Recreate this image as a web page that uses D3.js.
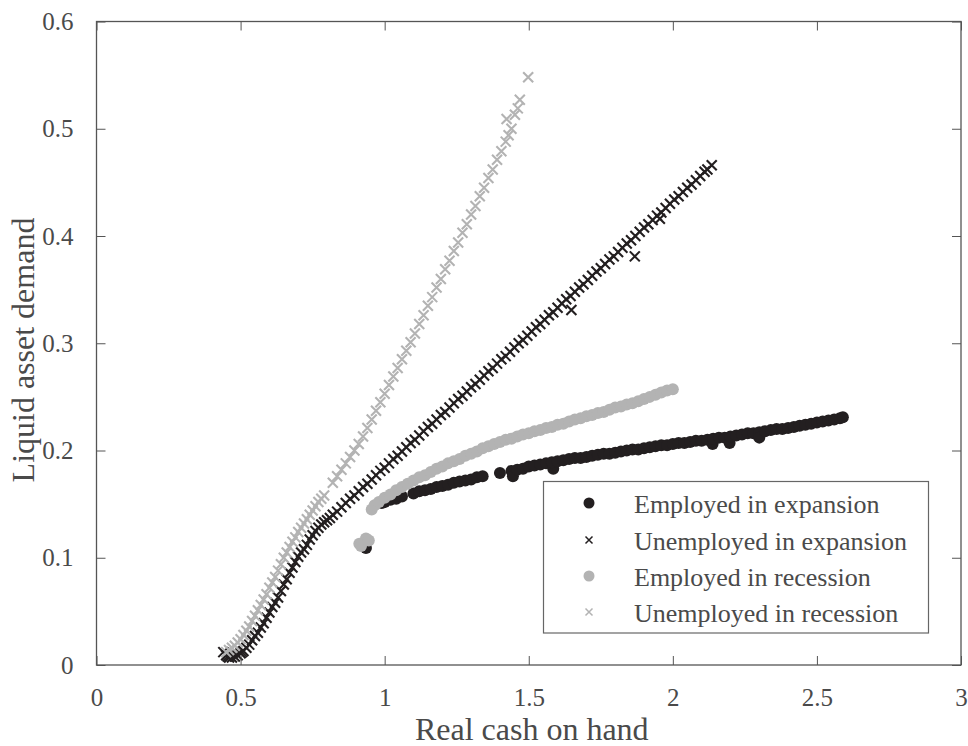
<!DOCTYPE html>
<html><head><meta charset="utf-8">
<script src="https://cdn.jsdelivr.net/npm/d3@7"></script>
<style>body{margin:0;background:#fff}svg{display:block}</style>
</head><body>
<script>
// ---- data ----
const seriesNames = ["Employed in expansion","Unemployed in expansion","Employed in recession","Unemployed in recession"];
const xTicks = [0,0.5,1,1.5,2,2.5,3];
const yTicks = [0,0.1,0.2,0.3,0.4,0.5,0.6];

const empExpansion = [
[0.925,0.112],[0.935,0.109],[0.99,0.151],[1.00,0.152],[1.02,0.154],[1.04,0.155],[1.06,0.157],
[1.10,0.160],[1.12,0.162],[1.14,0.163],[1.16,0.164],[1.18,0.166],[1.20,0.167],[1.22,0.168],[1.24,0.170],
[1.26,0.171],[1.28,0.172],[1.30,0.173],[1.32,0.175],[1.34,0.176],[1.40,0.179],[1.44,0.181],[1.445,0.176],
[1.46,0.182],[1.48,0.183],[1.50,0.185],[1.52,0.186],[1.54,0.187],[1.56,0.188],[1.585,0.183],[1.58,0.189],
[1.60,0.190],[1.62,0.191],[1.64,0.192],[1.66,0.193],[1.68,0.193],[1.70,0.194],[1.72,0.195],[1.74,0.196],
[1.76,0.197],[1.78,0.197],[1.80,0.198],[1.82,0.199],[1.84,0.200],[1.86,0.201],[1.88,0.201],[1.90,0.202],
[1.92,0.203],[1.94,0.204],[1.96,0.205],[1.98,0.205],[2.00,0.206],[2.02,0.207],[2.04,0.207],[2.06,0.208],
[2.08,0.209],[2.10,0.209],[2.12,0.210],[2.138,0.206],[2.14,0.211],[2.16,0.212],[2.18,0.212],[2.197,0.207],
[2.20,0.213],[2.22,0.214],[2.24,0.215],[2.26,0.216],[2.28,0.216],[2.30,0.217],[2.30,0.212],[2.32,0.218],
[2.34,0.219],[2.36,0.220],[2.38,0.220],[2.40,0.221],[2.42,0.222],[2.44,0.223],[2.46,0.224],[2.48,0.225],
[2.50,0.226],[2.52,0.227],[2.54,0.228],[2.56,0.229],[2.58,0.230],[2.59,0.231]
];

const unempExpansion = [
[0.44,0.012],[0.45,0.009],[0.455,0.008],[0.46,0.007],[0.47,0.007],[0.48,0.008],[0.49,0.009],[0.50,0.011],
[0.505,0.012],[0.51,0.013],[0.52,0.016],[0.53,0.019],[0.54,0.023],[0.55,0.027],[0.56,0.030],[0.57,0.035],
[0.58,0.039],[0.59,0.044],[0.60,0.049],[0.61,0.054],[0.62,0.058],[0.63,0.063],[0.64,0.069],[0.65,0.075],
[0.66,0.080],[0.67,0.086],[0.68,0.091],[0.69,0.096],[0.70,0.101],[0.71,0.105],[0.72,0.108],[0.73,0.112],
[0.74,0.117],[0.75,0.121],[0.76,0.125],[0.77,0.128],[0.78,0.131],[0.79,0.133],[0.80,0.135],[0.81,0.137],
[0.820,0.140],[0.835,0.143],[0.850,0.147],[0.865,0.151],[0.880,0.155],[0.895,0.158],[0.910,0.162],[0.925,0.166],
[0.940,0.169],[0.955,0.173],[0.970,0.177],[0.985,0.181],[1.000,0.184],[1.015,0.188],[1.030,0.192],[1.045,0.195],
[1.060,0.199],[1.075,0.203],[1.090,0.207],[1.105,0.210],[1.120,0.214],[1.135,0.218],[1.150,0.222],[1.165,0.225],
[1.180,0.229],[1.195,0.233],[1.210,0.236],[1.225,0.240],[1.240,0.244],[1.255,0.248],[1.270,0.251],[1.285,0.255],
[1.300,0.259],[1.315,0.262],[1.330,0.266],[1.345,0.270],[1.360,0.274],[1.375,0.277],[1.390,0.281],[1.405,0.285],
[1.420,0.288],[1.435,0.292],[1.450,0.296],[1.465,0.300],[1.480,0.303],[1.495,0.307],[1.510,0.311],[1.525,0.315],
[1.540,0.318],[1.555,0.322],[1.570,0.326],[1.585,0.329],[1.600,0.333],[1.615,0.337],[1.630,0.341],[1.645,0.344],
[1.660,0.348],[1.675,0.352],[1.690,0.355],[1.705,0.359],[1.720,0.363],[1.735,0.367],[1.750,0.370],[1.765,0.374],
[1.780,0.378],[1.795,0.381],[1.810,0.385],[1.825,0.389],[1.840,0.393],[1.855,0.396],[1.870,0.400],[1.885,0.404],
[1.900,0.408],[1.915,0.411],[1.930,0.415],[1.945,0.419],[1.955,0.416],[1.960,0.422],[1.975,0.426],[1.990,0.430],
[2.005,0.434],[2.020,0.437],[2.035,0.441],[2.050,0.445],[2.065,0.448],[2.080,0.452],[2.095,0.456],[2.110,0.460],
[2.120,0.462],[2.135,0.466],[1.648,0.331],[1.868,0.381]
];

const empRecession = [
[0.912,0.113],[0.918,0.111],[0.935,0.118],[0.945,0.116],
[0.955,0.145],[0.965,0.149],[0.98,0.152],[1.00,0.156],[1.02,0.159],[1.04,0.163],[1.06,0.166],[1.08,0.169],
[1.10,0.172],[1.12,0.175],[1.14,0.177],[1.16,0.180],[1.18,0.183],[1.20,0.185],[1.22,0.188],[1.24,0.190],
[1.26,0.192],[1.28,0.195],[1.30,0.197],[1.32,0.199],[1.34,0.202],[1.36,0.204],[1.38,0.206],[1.40,0.208],
[1.42,0.210],[1.44,0.211],[1.46,0.213],[1.48,0.215],[1.50,0.216],[1.52,0.218],[1.54,0.219],[1.56,0.221],
[1.58,0.222],[1.60,0.224],[1.62,0.225],[1.64,0.227],[1.66,0.229],[1.68,0.230],[1.70,0.232],[1.72,0.233],
[1.74,0.235],[1.76,0.236],[1.78,0.238],[1.80,0.240],[1.82,0.241],[1.84,0.243],[1.86,0.244],[1.88,0.246],
[1.90,0.248],[1.92,0.250],[1.94,0.252],[1.96,0.254],[1.98,0.256],[2.00,0.257]
];

const unempRecession = [
[0.45,0.012],[0.46,0.014],[0.47,0.016],[0.48,0.018],[0.49,0.021],[0.50,0.024],[0.51,0.028],[0.52,0.032],
[0.53,0.036],[0.54,0.041],[0.55,0.046],[0.56,0.051],[0.57,0.056],[0.58,0.061],[0.59,0.066],[0.60,0.072],
[0.61,0.077],[0.62,0.082],[0.63,0.088],[0.64,0.094],[0.65,0.100],[0.66,0.105],[0.67,0.110],[0.68,0.115],
[0.69,0.119],[0.70,0.124],[0.71,0.128],[0.72,0.132],[0.73,0.136],[0.74,0.140],[0.75,0.144],[0.76,0.148],
[0.77,0.152],[0.78,0.155],[0.79,0.158],
[0.82,0.170],[0.835,0.176],[0.85,0.182],[0.865,0.188],[0.88,0.194],[0.895,0.200],[0.91,0.206],[0.925,0.213],
[0.94,0.221],[0.955,0.229],[0.97,0.237],[0.985,0.245],[1.00,0.253],[1.015,0.261],[1.03,0.269],[1.045,0.277],
[1.06,0.285],[1.075,0.293],[1.09,0.301],[1.105,0.309],[1.12,0.318],[1.135,0.326],[1.15,0.335],[1.165,0.343],
[1.18,0.352],[1.195,0.360],[1.21,0.369],[1.225,0.377],[1.24,0.386],[1.255,0.394],[1.27,0.403],[1.285,0.411],
[1.30,0.420],[1.315,0.428],[1.33,0.437],[1.345,0.445],[1.36,0.454],[1.375,0.462],[1.39,0.471],[1.405,0.479],
[1.42,0.488],[1.43,0.494],[1.44,0.500],
[1.423,0.509],[1.452,0.513],[1.462,0.519],[1.469,0.527],[1.498,0.548]
];

// ---- chart ----
const W = 968, H = 746;
const mLeft = 96.5, mRight = 961, mTop = 21.5, mBottom = 665;
const BLACK = "#231f20", GRAY = "#b3b3b3", AXIS = "#555", TXT = "#4a4a4a";
const FONT = "'Liberation Serif','Times New Roman',serif";

const svg = d3.select("body").append("svg").attr("width", W).attr("height", H);
const x = d3.scaleLinear().domain([0,3]).range([mLeft, mRight]);
const y = d3.scaleLinear().domain([0,0.6]).range([mBottom, mTop]);

const plot = svg.append("g");
const dotR = 6, xs = 5;
const xPath = `M${-xs},${-xs}L${xs},${xs}M${-xs},${xs}L${xs},${-xs}`;

function dots(data, color){
  plot.append("g").selectAll("circle").data(data).join("circle")
    .attr("cx", d => x(d[0])).attr("cy", d => y(d[1])).attr("r", dotR).attr("fill", color);
}
function crosses(data, color){
  plot.append("g").selectAll("path").data(data).join("path")
    .attr("transform", d => `translate(${x(d[0])},${y(d[1])})`)
    .attr("d", xPath).attr("stroke", color).attr("stroke-width", 2.1).attr("fill", "none");
}
dots(empExpansion, BLACK);
crosses(unempExpansion, BLACK);
dots(empRecession, GRAY);
crosses(unempRecession, GRAY);

// axes (ticks inside, mirrored)
const tl = 9;
function styleAxis(g){
  g.select(".domain").remove();
  g.selectAll(".tick line").attr("stroke", AXIS).attr("stroke-width", 1);
  g.selectAll(".tick text").attr("fill", TXT).style("font-family", FONT).style("font-size", "25px");
}
const fmt = d => d === 0 ? "0" : d3.format("")(d);
svg.append("g").attr("transform", `translate(0,${mBottom})`)
  .call(d3.axisBottom(x).tickValues(xTicks).tickFormat(fmt).tickSizeInner(-tl).tickSizeOuter(0).tickPadding(23))
  .call(styleAxis);
svg.append("g").attr("transform", `translate(0,${mTop})`)
  .call(d3.axisTop(x).tickValues(xTicks).tickFormat("").tickSizeInner(-tl).tickSizeOuter(0))
  .call(styleAxis);
svg.append("g").attr("transform", `translate(${mLeft},0)`)
  .call(d3.axisLeft(y).tickValues(yTicks).tickFormat(fmt).tickSizeInner(-tl).tickSizeOuter(0).tickPadding(23))
  .call(styleAxis);
svg.append("g").attr("transform", `translate(${mRight},0)`)
  .call(d3.axisRight(y).tickValues(yTicks).tickFormat("").tickSizeInner(-tl).tickSizeOuter(0))
  .call(styleAxis);

svg.append("rect").attr("x", mLeft).attr("y", mTop).attr("width", mRight-mLeft).attr("height", mBottom-mTop)
  .attr("fill", "none").attr("stroke", AXIS).attr("stroke-width", 1.3);

// axis titles
svg.append("text").attr("x", (mLeft+mRight)/2 + 3).attr("y", 740).attr("text-anchor", "middle")
  .attr("fill", TXT).style("font-family", FONT).style("font-size", "32px").text("Real cash on hand");
svg.append("text").attr("transform", `translate(34,350) rotate(-90)`).attr("text-anchor", "middle")
  .attr("fill", TXT).style("font-family", FONT).style("font-size", "32px").text("Liquid asset demand");

// legend
const lg = svg.append("g");
lg.append("rect").attr("x", 543.5).attr("y", 481.5).attr("width", 385).attr("height", 151.5)
  .attr("fill", "#fff").attr("stroke", "#666").attr("stroke-width", 1.2);
const rowsY = [503, 540, 576, 612];
const legColors = [BLACK, BLACK, GRAY, GRAY];
const legType = ["dot","cross","dot","cross"];
seriesNames.forEach((name, i) => {
  const cy = rowsY[i];
  if (legType[i] === "dot") {
    lg.append("circle").attr("cx", 589).attr("cy", cy).attr("r", 5.5).attr("fill", legColors[i]);
  } else {
    lg.append("path").attr("transform", `translate(589,${cy})`).attr("d", "M-3.5,-3.5L3.5,3.5M-3.5,3.5L3.5,-3.5")
      .attr("stroke", legColors[i]).attr("stroke-width", 1.5);
  }
  lg.append("text").attr("x", 634).attr("y", cy + 10).attr("fill", TXT)
    .style("font-family", FONT).style("font-size", "26px").text(name);
});
</script>
</body></html>
